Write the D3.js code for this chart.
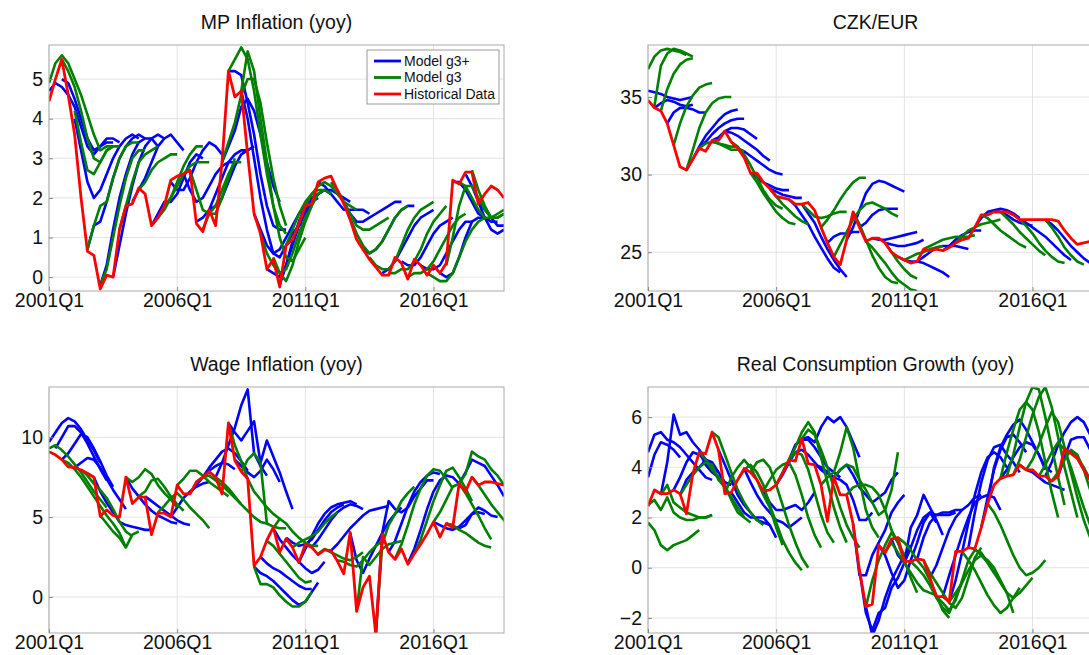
<!DOCTYPE html>
<html><head><meta charset="utf-8">
<script src="https://cdn.jsdelivr.net/npm/d3@7"></script>
<style>body{margin:0;background:#fff}svg{font-family:"Liberation Sans",Arial,sans-serif}</style>
</head><body><svg id="chart" width="1089" height="655"></svg>
<script>
// quarters 2001Q1 .. 2018Q4, index 0..71
var tickQuarters = [0, 20, 40, 60];
var tickLabels = ["2001Q1", "2006Q1", "2011Q1", "2016Q1"];
var seriesNames = ["Model g3+", "Model g3", "Historical Data"];

// historical data
var mpHist = [4.44,5.0,5.5,4.6,3.6,2.0,0.65,0.55,-0.3,0.05,0.0,1.2,1.8,1.85,2.25,2.1,1.3,1.5,1.8,2.45,2.55,2.6,2.7,1.35,1.15,1.7,1.3,2.9,5.2,4.55,4.7,3.1,1.6,1.1,0.2,0.45,-0.25,0.8,0.95,1.35,1.8,1.85,2.4,2.5,2.55,2.2,1.85,1.45,0.95,0.7,0.45,0.25,0.05,0.05,0.5,0.35,-0.05,0.45,0.3,0.05,0.3,0.1,0.35,2.45,2.35,2.65,2.65,1.85,2.1,2.3,2.2,2.0];
var czkHist = [34.8,34.3,34.1,33.3,31.9,30.5,30.3,31.0,31.7,31.5,32.2,32.2,32.8,32.1,31.7,31.1,30.1,30.1,29.5,29.1,28.6,28.5,28.4,28.1,28.1,28.2,27.7,26.6,25.6,24.7,24.2,25.8,27.6,26.6,25.7,25.9,25.9,25.6,25.0,24.7,24.5,24.3,24.4,25.2,25.1,25.2,25.1,25.3,25.6,25.8,25.9,26.6,27.4,27.4,27.6,27.6,27.6,27.4,27.1,27.1,27.1,27.1,27.1,27.1,27.0,26.4,25.9,25.5,25.6,25.7,25.6,25.7];
var wageHist = [9.1,8.9,8.6,8.15,8.1,7.95,7.75,7.5,5.05,5.45,5.1,5.0,7.5,5.85,6.25,6.25,3.9,5.25,5.25,5.0,7.0,6.45,6.45,7.2,7.5,7.85,7.5,6.45,10.9,8.55,7.85,7.4,1.95,2.5,3.55,4.35,2.8,3.65,3.1,2.15,3.3,3.1,2.65,2.95,2.9,2.25,1.45,4.05,-0.9,0.6,1.3,-2.35,3.95,2.8,2.35,3.0,2.05,2.7,3.3,3.95,4.7,3.75,4.6,4.35,7.1,6.6,7.5,7.0,7.2,7.2,7.1,7.0];
var consHist = [2.45,3.1,2.95,2.95,3.1,2.95,2.15,3.75,4.6,4.55,5.4,4.7,2.95,3.0,3.5,3.95,3.8,3.5,3.05,3.1,3.3,3.75,4.3,4.25,5.15,4.15,4.1,3.3,1.85,3.6,2.9,2.9,1.75,-0.1,-1.55,-1.45,0.9,0.6,1.15,1.2,0.25,0.25,0.35,0.3,-0.4,-1.15,-1.15,-1.35,0.65,0.65,0.8,0.75,1.6,2.55,3.3,3.55,3.65,3.7,4.1,3.9,3.9,3.65,3.65,3.45,3.65,4.75,4.55,4.35,3.9,3.5,3.3,3.2];

// forecasts: [start quarter, values...]
var mpG3plus = [
 [0,4.7,4.9,4.8,4.6,4.3,3.8,3.3,3.1,3.3,3.4,3.4],[2,5.0,4.9,4.5,4.0,3.5,3.2,3.3,3.5,3.5,3.4],
 [4,4.0,3.2,2.4,2.0,2.2,2.6,3.0,3.3,3.5,3.6,3.5],[6,0.7,1.3,1.4,1.9,2.5,3.0,3.3,3.5,3.6,3.5],
 [8,-0.2,0.3,1.2,2.0,2.6,3.1,3.4,3.5,3.5,3.3],[10,0.0,0.8,1.6,2.3,2.9,3.3,3.5,3.6,3.5],
 [13,1.9,2.2,2.5,2.9,3.3,3.5,3.6,3.4,3.2],[16,1.3,1.6,1.9,1.9,2.1,2.5,2.9,3.1,3.0],
 [19,2.4,2.2,2.2,2.5,2.9,3.2,3.4,3.3,3.1],[21,2.6,2.2,1.9,2.0,2.3,2.6,2.8,2.9,2.9],
 [23,1.4,1.5,1.7,2.1,2.5,2.9,3.1,3.2,3.2],[25,1.7,1.8,2.0,2.4,2.8,3.1,3.2,3.3],
 [27,2.9,3.3,3.7,4.3,4.5,4.2,3.6,2.9,2.3,1.9],[28,5.2,5.2,5.1,4.4,3.6,2.6,1.8,1.3,1.2,1.2],
 [30,4.7,4.0,3.0,2.0,1.2,0.6,0.5,0.8,1.1,1.3,1.4],[32,1.6,1.2,0.8,0.6,0.7,1.0,1.3,1.6,1.8],
 [34,0.2,0.1,0.0,0.3,0.8,1.3,1.6,1.9,2.0],[36,-0.2,0.3,0.9,1.4,1.8,2.0,2.1,2.2,2.1],
 [39,1.4,1.7,1.9,2.1,2.2,2.2,2.1,2.0,1.9],[42,2.4,2.3,2.1,1.9,1.7,1.7,1.7,1.7,1.6],
 [46,1.9,1.6,1.4,1.4,1.5,1.6,1.7,1.8,1.9,1.9],[49,0.7,0.6,0.7,0.9,1.2,1.5,1.7,1.8,1.8],
 [52,0.1,0.2,0.4,0.7,1.0,1.3,1.5,1.6,1.7],[55,0.4,0.3,0.3,0.5,0.8,1.1,1.3,1.4,1.5],
 [58,0.3,0.2,0.2,0.3,0.6,0.9,1.2,1.4,1.4],[61,0.1,0.0,0.1,0.5,1.0,1.4,1.5,1.5],
 [63,2.4,2.4,2.2,1.9,1.6,1.5,1.4,1.4],[65,2.6,2.3,1.9,1.5,1.2,1.1,1.2],[67,1.9,1.7,1.5,1.3,1.3]];
var mpG3 = [
 [0,4.9,5.4,5.6,5.4,5.0,4.6,4.1,3.6,3.2,3.3,3.3],[2,5.5,5.2,4.8,4.2,3.5,3.0,2.9,3.2,3.3],
 [4,4.2,3.4,2.7,2.6,2.9,3.2,3.3,3.3],[6,0.7,1.3,1.8,1.9,2.5,3.0,3.3,3.4,3.4],
 [8,-0.2,0.2,1.0,1.8,2.5,3.0,3.2,3.2],[11,1.2,1.8,2.4,2.9,3.1,3.2,3.3],
 [14,2.2,2.4,2.7,2.9,3.0,3.1,3.1],[16,1.3,1.5,1.7,2.0,2.4,2.8,3.1,3.3,3.3],
 [18,1.8,2.0,2.3,2.6,2.8,2.9,2.9,2.9],[22,2.7,2.2,1.7,1.6,1.8,2.2,2.6,2.9,2.9],
 [24,1.2,1.6,1.6,2.0,2.5,3.0],[27,2.9,3.4,3.9,4.6,5.0,5.0,4.4,3.4,2.5,1.8,1.3],
 [28,5.2,5.5,5.8,5.5,4.7,3.6,2.6,1.8,1.3,1.1],[30,4.7,5.7,5.2,4.0,2.9,1.8,1.0,0.5,0.4,0.7,1.0],
 [33,1.1,0.6,0.3,0.1,0.2,0.6,1.1,1.5,1.8],[35,0.5,0.1,-0.1,0.3,0.9,1.4,1.8,2.1,2.2],
 [37,0.8,1.2,1.6,1.9,2.1,2.2,2.2,2.1],[40,1.8,2.1,2.3,2.4,2.3,2.1,1.9,1.8,1.7],
 [44,2.4,2.2,1.9,1.6,1.3,1.2,1.2,1.3,1.4,1.5],[47,1.5,1.1,0.8,0.6,0.7,0.9,1.2,1.5,1.7,1.8],
 [50,0.5,0.3,0.2,0.2,0.4,0.8,1.2,1.5,1.7,1.8,1.9],[53,0.1,0.1,0.2,0.2,0.4,0.7,1.1,1.4,1.6,1.8],
 [56,0.0,0.1,0.1,0.2,0.4,0.7,1.0,1.3,1.5,1.6],[59,0.1,0.0,-0.1,-0.1,0.1,0.5,0.9,1.2,1.4,1.5],
 [62,0.3,1.0,1.8,2.3,2.3,2.0,1.7,1.5,1.5,1.6],[64,2.4,2.3,2.0,1.7,1.5,1.5,1.6,1.7],
 [66,2.7,2.2,1.8,1.5,1.5,1.6]];

var czkG3plus = [
 [0,35.4,35.3,35.2,35.0,34.9,34.8,34.9,35.0],[1,34.3,34.6,34.8,34.7,34.5,34.4,34.5],
 [3,33.3,34.0,34.3,34.3,34.2,34.0,34.0],[6,30.3,31.0,31.8,32.5,33.0,33.5,33.9,34.1,34.2],
 [8,31.7,32.1,32.6,33.0,33.3,33.5,33.6,33.6],[10,32.2,32.4,32.8,33.0,33.0,32.9,32.6,32.3],
 [12,32.8,32.7,32.5,32.2,31.9,31.6,31.2,30.9],[14,31.7,31.5,31.2,30.9,30.6,30.3,30.1,30.0],
 [16,30.1,29.8,29.5,29.3,29.1,29.0,29.0],[19,29.1,28.9,28.7,28.6,28.5,28.5],
 [22,28.4,28.0,27.4,26.8,26.0,25.3,24.6,24.0,23.7],[24,28.1,27.5,26.9,26.0,25.2,24.5,23.9,23.4],
 [28,25.6,26.0,26.2,26.2,26.3,26.3],[31,25.8,26.6,27.7,28.8,29.4,29.6,29.5,29.3,29.1,28.9],
 [33,26.6,26.9,27.4,27.7,27.8,27.8,27.8],[35,25.9,25.8,25.8,25.9,26.0,26.1,26.2,26.3],
 [37,25.6,25.5,25.4,25.4,25.5,25.6,25.8],[39,24.7,24.5,24.4,24.4,24.3,24.1,23.9,23.7,23.4],
 [42,24.4,24.7,25.0,25.3,25.4,25.4,25.4,25.3,25.2],[46,25.1,25.4,25.8,26.1,26.3,26.4,26.4],
 [51,26.6,27.2,27.6,27.7,27.8,27.7,27.5,27.2],[54,27.6,27.6,27.4,27.1,26.9,26.8,26.7],
 [58,27.1,26.9,26.6,26.3,26.0,25.6,25.2,24.8,24.5],[62,27.1,26.8,26.4,25.9,25.4,25.0,24.6,24.3]];
var czkG3 = [
 [0,36.8,37.6,38.0,38.1,38.0,37.9,37.7],[1,34.4,37.0,37.8,38.1,38.0,37.8,37.6],
 [2,34.1,35.5,36.5,37.1,37.4,37.5],[4,31.9,33.3,34.4,35.1,35.6,35.8,35.9],
 [6,30.3,31.6,33.0,34.0,34.6,34.9,35.0,35.0],[8,31.7,32.0,32.1,32.0,31.9,31.8,31.8],
 [10,32.2,32.0,31.8,31.6,31.6,31.5],[13,32.1,31.8,31.3,30.6,29.8,29.0,28.4,28.0,27.8],
 [16,30.1,29.5,28.8,28.2,27.6,27.2,26.9,26.8],[19,29.1,28.6,28.1,27.7,27.3,27.0,26.8],
 [24,28.1,27.7,27.3,27.2,27.3,27.5,27.6,27.6],[27,26.6,27.1,27.7,28.4,29.0,29.5,29.8,29.8],
 [29,24.7,25.5,26.3,27.1,27.7,28.1,28.2,28.0,27.8,27.5,27.3],[32,27.6,26.8,25.8,24.8,24.0,23.4,23.1,23.0],
 [34,25.7,25.3,24.8,24.3,23.7,23.2,22.9,22.6,22.5],[37,25.6,25.0,24.4,23.9,23.5,23.3],
 [40,24.5,24.7,24.9,25.0,25.2,25.3,25.4],[43,25.2,25.4,25.6,25.8,25.9,26.0,26.0,26.0,26.1],
 [48,25.6,26.0,26.4,26.6,26.8,26.9,27.0,27.1],[52,27.4,27.2,26.8,26.4,26.1,25.8,25.5,25.3],
 [55,27.6,27.2,26.8,26.3,25.9,25.5,25.1,24.8],[58,27.1,26.7,26.2,25.6,25.1,24.7,24.4,24.3],
 [62,27.1,26.6,26.0,25.3,24.8,24.4,24.2]];

var wageG3plus = [
 [0,9.7,10.3,10.9,11.2,11.0,10.5,9.8,9.2,8.4],[1,9.3,10.0,10.7,10.7,10.3,9.6,8.8,8.0,7.3],
 [2,8.6,9.0,9.6,10.2,10.0,9.3,8.5,7.6,6.9],[4,8.1,8.4,8.7,8.6,8.1,7.4,6.7,6.1,5.5],
 [7,7.5,6.6,5.9,5.3,4.7,4.5,4.4,4.3,4.2,4.2],[12,7.5,6.8,6.3,5.8,5.4,5.1,4.9,4.7,4.6],
 [15,6.3,6.0,5.7,5.4,5.1,4.8,4.6,4.5],[19,5.0,5.6,6.2,6.6,6.9,7.1,7.2],
 [22,6.5,7.0,7.5,7.9,8.2,8.4,8.3,8.0],[24,7.5,8.1,8.6,9.1,9.3,9.0,8.5,7.9],
 [26,7.5,8.4,9.5,10.6,12.0,13.0,9.0,8.2,7.6],[28,10.9,10.3,9.8,10.4,11.0,8.4,9.8,8.8,7.8,6.6,5.5],
 [29,8.6,8.2,7.8,7.5,7.9,8.6,8.0,7.2],[32,1.9,1.5,1.3,1.0,0.6,0.2,-0.2,-0.5,-0.3,0.3,0.9],
 [33,2.5,2.1,1.8,1.6,1.3,1.0,0.7,0.5,0.5],[35,4.3,3.6,3.1,2.6,2.2,1.8,1.5,1.7,2.2],
 [37,3.7,3.4,3.2,3.3,3.6,4.2,4.8,5.3,5.6,5.8],[39,2.2,3.0,3.8,4.6,5.2,5.6,5.8,5.9,6.0,5.8],
 [41,3.1,3.6,4.2,4.8,5.3,5.6,5.8,5.7,5.5],[44,2.9,3.3,3.8,4.3,4.7,5.1,5.4,5.5,5.6,5.7],
 [47,4.0,2.3,1.5,2.4,3.2,4.0,4.7,5.2,5.6],[51,-2.3,4.0,6.0,5.5,5.3,5.6,6.3,6.8,7.3,7.3],
 [53,2.8,3.5,4.6,5.7,6.6,7.2,7.6,7.8,7.7],[56,2.1,3.0,4.2,5.5,6.6,7.3,7.6,7.5,7.1],
 [60,4.7,4.5,4.3,4.2,4.4,4.8,5.2,5.3,5.2],[62,4.6,4.4,4.3,4.5,5.2,5.6,5.4,5.1,5.0],
 [64,7.1,7.8,8.6,8.4,8.2,7.6,7.0,6.3]];
var wageG3 = [
 [0,9.3,9.5,9.2,8.8,8.3,7.8,7.2,6.6,6.1,5.6],[2,8.6,8.4,8.0,7.5,6.9,6.3,5.7,5.1,4.6,4.0,3.1],
 [5,8.0,7.6,7.1,6.7,6.2,5.5,4.7,4.1,3.8],[8,5.1,4.6,4.1,3.7,3.1,3.9,4.1],
 [12,7.5,7.2,7.5,8.0,7.7,7.0,6.5,6.1,5.6],[14,6.3,6.6,7.3,7.4,6.9,6.3,5.8,5.4],
 [17,5.3,5.7,6.2,6.5,6.1,5.6,5.2,4.8,4.3],[20,7.0,7.4,7.9,7.9,7.6,7.2,6.9,6.6,6.3],
 [23,7.2,7.5,7.6,7.3,7.0,6.6,6.2,5.8],[26,7.5,7.2,6.8,6.3,5.8,5.4,5.0,4.7,4.6],
 [28,10.9,9.5,8.5,7.4,6.6,6.1,5.6,5.2,4.9],[30,7.8,8.6,9.0,8.4,4.6,4.4,4.3,4.3],
 [32,1.9,0.8,0.8,0.6,0.1,-0.3,-0.6,-0.6,-0.3,0.3],[34,3.5,3.2,2.7,2.2,1.7,1.2,0.9,1.0],
 [35,4.3,4.9,4.6,4.1,3.7,3.4,3.2,3.2],[38,3.1,3.4,3.6,3.8,4.1,4.6,5.0,5.3],
 [42,2.7,3.0,2.8,2.6,2.4,2.3,2.5,2.8],[45,2.3,2.2,2.0,1.9,2.3,2.8,3.2,3.5],
 [48,-0.9,2.5,2.0,2.5,3.0,3.3,3.4,3.5],[51,-2.3,3.3,4.5,5.2,6.0,6.5,6.9],
 [54,2.4,3.3,4.5,5.8,6.8,7.6,8.0,7.9,7.4,6.8],[57,2.7,3.6,4.8,6.0,7.0,7.9,8.1,7.5,6.8,6.0],
 [60,4.7,5.3,6.1,6.9,7.1,6.5,5.8,5.1,4.3,3.6],[62,4.6,4.5,4.2,4.0,3.7,3.4,3.2,3.1],
 [64,7.1,7.7,9.1,8.8,8.6,8.0,7.6,7.0],[66,7.5,7.0,6.4,5.8,5.3,4.8,4.3,3.9]];

var consG3plus = [
 [0,4.6,5.3,5.4,5.1,5.0,4.8,4.5,4.2,3.9,3.6,3.5],[0,3.6,4.5,5.0,4.9,4.7,4.4],
 [2,2.9,4.2,6.1,5.3,5.4,5.0,4.7,4.3,3.9,3.6],[4,3.1,3.6,4.2,4.6,4.5,4.3,4.1,3.8],
 [5,2.9,3.5,3.8,4.0,4.3,4.2,3.8,3.4,3.3],[8,4.6,4.1,3.8,3.6,3.4,3.3],
 [11,4.7,4.1,3.5,2.9,2.5,2.2,1.9,1.8,1.7],[13,3.0,2.6,2.2,2.0,2.0,2.0,1.7,1.2],
 [15,3.95,3.4,2.9,2.5,2.2,1.9,1.8,1.6,1.8,2.0],[18,3.1,2.6,2.3,2.3,2.4,2.5,2.3,2.6,3.0],
 [20,3.3,3.7,4.2,4.6,4.7,4.5,4.2,3.9,3.7],[22,4.3,4.9,5.1,5.1,4.8,4.4,4.0,3.8,3.6],
 [24,5.15,5.2,5.0,5.6,6.0,5.8,6.0,5.6,5.0,4.4],[26,4.1,4.0,3.8,3.6,3.5,3.3,2.7,1.9,1.9,2.2],
 [29,3.6,3.9,4.1,3.7,3.2,2.9,2.6,2.8,3.0,3.5,3.8],[32,1.75,-0.3,-0.3,0.5,1.0,1.5,2.2,2.6,2.9],
 [33,-0.1,-1.8,-2.5,-1.8,-1.6,-0.8,-0.4,0.2,0.8],[34,-1.55,-2.7,-2.1,-1.2,-0.5,0.0,0.5,0.9],
 [36,0.9,0.5,-0.2,-0.8,-0.5,0.3,1.0,1.8,2.2,1.8],[38,1.15,0.5,0.2,1.6,2.1,2.9,2.4,1.9,1.3],
 [40,0.25,0.8,1.5,2.0,2.2,2.1,2.1,2.1,2.2],[42,0.35,1.2,1.8,2.1,2.2,2.2,2.3,2.3],
 [44,-0.4,0.1,0.8,1.5,2.0,2.3,2.5,2.8,2.9],[46,-1.15,-0.3,0.5,1.3,2.0,2.6,2.8,2.9,2.8,2.3],
 [47,-1.35,-0.5,0.6,1.8,2.9,3.8,4.4,4.6,4.4,4.0],[50,0.8,2.2,3.4,4.3,4.8,4.9,4.5,4.2,3.8],
 [52,1.6,2.8,3.9,4.7,5.2,5.3,5.0,4.6],[53,2.55,4.0,4.8,5.3,5.7,5.9,5.5,5.0,4.5,3.9],
 [55,3.55,3.9,4.4,4.8,5.0,4.9,4.5,4.0,3.8],[58,4.1,3.9,3.8,3.6,3.4,3.3,3.2,3.1],
 [62,3.65,4.2,4.9,5.4,5.8,6.0,5.8,5.3,4.8],[64,3.65,4.4,5.1,5.2,5.2,4.7,4.0]];
var consG3 = [
 [0,1.8,1.5,0.9,0.7,0.9,1.0,1.1,1.3,1.5],[0,2.5,2.7,2.3,2.8,2.2,2.0,1.9,1.9,2.0,2.0,2.1],
 [2,2.9,3.3,2.6,2.4,2.2,2.1,2.0,2.0,2.1],[5,2.9,3.3,3.7,4.0,4.2,4.1,3.5,3.2,2.8,2.4,2.0],
 [8,4.6,4.3,3.9,3.6,3.3,2.7,2.2,2.0,1.8],[10,5.4,5.2,4.5,3.8,3.1,2.6,2.2,1.9,1.7],
 [12,2.95,3.6,4.0,4.3,4.0,3.5,2.9,2.4,1.6,0.9],[14,3.5,3.9,4.1,3.8,3.3,2.5,1.8,1.1,0.6,0.2,-0.1],
 [16,3.8,4.2,4.3,4.0,3.3,2.5,1.7,1.0,0.4,0.0],[18,3.05,3.5,3.9,4.1,4.2,3.7,2.9,2.0,1.3,0.8],
 [20,3.3,3.8,4.3,4.6,4.5,3.9,3.0,2.1,1.4,1.0],[22,4.3,4.8,5.4,5.8,5.4,4.4,3.4,2.4,1.6,1.0],
 [24,5.15,5.5,5.3,4.7,4.0,3.2,2.4,1.7,1.2,0.8],[27,3.3,3.6,3.8,4.6,5.6,4.8,3.5,2.3,1.6,1.2],
 [29,3.6,3.9,4.1,4.0,3.5,3.1,2.6,2.1,2.3,3.1,4.6],[31,2.9,3.2,3.3,3.3,3.2,2.9,2.3,1.5,1.0,0.5],
 [34,-1.55,-0.5,0.3,0.9,1.4,1.0,0.3,-0.4,-1.0],[37,0.6,1.0,0.6,0.2,-0.2,-0.6,-0.9,-1.0,-1.1],
 [39,1.2,1.0,0.7,0.3,0.0,-0.5,-1.1,-1.7,-2.0],[41,0.25,0.0,-0.3,-0.7,-1.2,-1.6,-1.8,-1.2,-0.6],
 [43,0.3,-0.2,-0.6,-1.0,-1.4,-1.6,-1.2,-0.4,0.4,0.8],[45,-1.15,-1.4,-1.7,-1.3,-0.5,0.3,0.7,0.6,0.2,-0.2],
 [47,-1.35,-1.0,-0.6,-0.1,0.3,0.5,0.3,0.0,-0.5,-1.0,-1.8],[49,0.65,0.3,-0.1,-0.6,-1.1,-1.5,-1.8,-1.6,-1.2,-0.8],
 [51,0.75,0.5,0.2,-0.2,-0.6,-1.0,-1.2,-1.0,-0.7,-0.4],[53,2.55,2.2,1.7,1.1,0.5,0.0,-0.3,-0.2,0.0,0.3],
 [55,3.55,4.6,5.5,6.3,6.6,6.3,5.4,4.2,3.0,2.0],[56,3.65,4.5,5.6,6.6,7.2,7.1,6.0,4.8,3.6,2.5],
 [57,3.7,4.3,5.2,6.1,6.8,7.2,6.4,5.2,4.0,3.0,2.0],[59,3.9,4.3,4.9,5.6,6.2,5.8,4.8,3.8,2.8,1.9,1.2],
 [61,3.65,4.1,4.6,5.0,4.7,4.0,3.2,2.4,1.7,1.1],[63,3.45,3.8,4.3,4.7,4.5,3.9,3.1,2.3,1.5,0.9],
 [65,4.75,4.6,4.4,4.0,3.5,2.8,2.1,1.4]];

var panels = [
  {title: "MP Inflation (yoy)", x: 49, y: 45, hist: mpHist, g3p: mpG3plus, g3: mpG3, dom: [-0.35, 5.86], ticks: [0,1,2,3,4,5], legend: true},
  {title: "CZK/EUR", x: 648, y: 45, hist: czkHist, g3p: czkG3plus, g3: czkG3, dom: [22.5, 38.35], ticks: [25,30,35]},
  {title: "Wage Inflation (yoy)", x: 49, y: 387, hist: wageHist, g3p: wageG3plus, g3: wageG3, dom: [-2.26, 13.15], ticks: [0,5,10]},
  {title: "Real Consumption Growth (yoy)", x: 648, y: 387, hist: consHist, g3p: consG3plus, g3: consG3, dom: [-2.6, 7.2], ticks: [-2,0,2,4,6]}
];
var W = 455, H = 246;
var colors = {g3p: "#0000ff", g3: "#008000", hist: "#ff0000"};

var svg = d3.select("#chart");

panels.forEach(function(p, k) {
  var g = svg.append("g").attr("transform", "translate(" + p.x + "," + p.y + ")");
  var x = d3.scaleLinear().domain([0, 71]).range([0, W]);
  var y = d3.scaleLinear().domain(p.dom).range([H, 0]);

  g.append("clipPath").attr("id", "clip" + k).append("rect").attr("width", W).attr("height", H);

  // grid
  g.selectAll(".gx").data(tickQuarters).enter().append("line")
    .attr("x1", x).attr("x2", x).attr("y1", 0).attr("y2", H)
    .attr("stroke", "#e3e3e3").attr("stroke-width", 1);
  g.selectAll(".gy").data(p.ticks).enter().append("line")
    .attr("x1", 0).attr("x2", W).attr("y1", y).attr("y2", y)
    .attr("stroke", "#e3e3e3").attr("stroke-width", 1);

  var line = d3.line().x(function(d) { return x(d[0]); }).y(function(d) { return y(d[1]); });
  var plot = g.append("g").attr("clip-path", "url(#clip" + k + ")");

  function fc(list, col) {
    list.forEach(function(f) {
      var pts = f.slice(1).map(function(v, i) { return [f[0] + i, v]; });
      plot.append("path").attr("d", line(pts)).attr("fill", "none")
        .attr("stroke", col).attr("stroke-width", 2.6).attr("stroke-linejoin", "round");
    });
  }
  fc(p.g3p, colors.g3p);
  fc(p.g3, colors.g3);
  plot.append("path").attr("d", line(p.hist.map(function(v, i) { return [i, v]; })))
    .attr("fill", "none").attr("stroke", colors.hist).attr("stroke-width", 2.8).attr("stroke-linejoin", "round");

  // axes box
  g.append("rect").attr("width", W).attr("height", H).attr("fill", "none").attr("stroke", "#aaa").attr("stroke-width", 1);

  var xa = g.append("g").attr("transform", "translate(0," + H + ")")
    .call(d3.axisBottom(x).tickValues(tickQuarters).tickFormat(function(d, i) { return tickLabels[i]; }).tickSizeInner(-4).tickSizeOuter(0).tickPadding(2));
  var ya = g.append("g")
    .call(d3.axisLeft(y).tickValues(p.ticks).tickFormat(d3.format("d")).tickSizeInner(-4).tickSizeOuter(0).tickPadding(6));
  [xa, ya].forEach(function(a) {
    a.select(".domain").remove();
    a.selectAll("line").attr("stroke", "#888");
    a.selectAll("text").attr("font-size", 19.5).attr("fill", "#111").attr("font-family", "Liberation Sans, Arial, sans-serif");
  });

  g.append("text").attr("x", W / 2).attr("y", -16).attr("text-anchor", "middle")
    .attr("font-size", 19.5).attr("fill", "#111").text(p.title);

  if (p.legend) {
    var lg = g.append("g").attr("transform", "translate(318,5)");
    lg.append("rect").attr("width", 132).attr("height", 54).attr("fill", "#fff").attr("stroke", "#999");
    [colors.g3p, colors.g3, colors.hist].forEach(function(c, i) {
      lg.append("line").attr("x1", 7).attr("x2", 34).attr("y1", 11 + i * 16.5).attr("y2", 11 + i * 16.5)
        .attr("stroke", c).attr("stroke-width", 2.8);
      lg.append("text").attr("x", 37).attr("y", 15.5 + i * 16.5).attr("font-size", 14).attr("fill", "#111").text(seriesNames[i]);
    });
  }
});
</script></body></html>
